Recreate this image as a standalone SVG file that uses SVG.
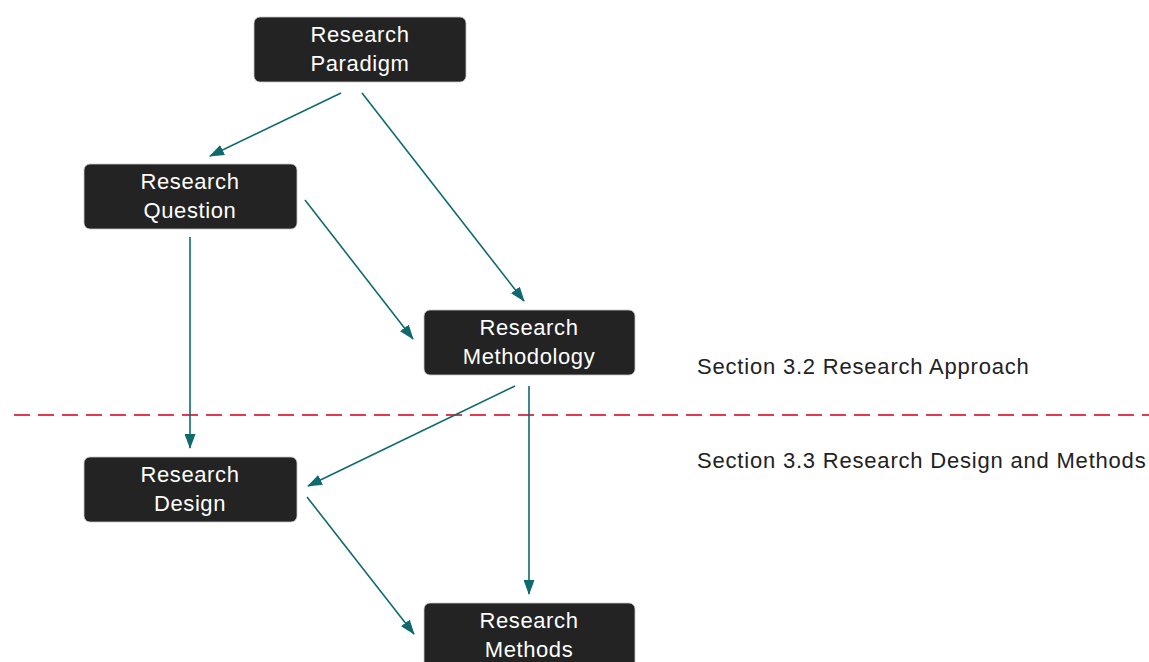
<svg xmlns="http://www.w3.org/2000/svg" width="1149" height="662" viewBox="0 0 1149 662">
  <style>
    .box { fill: #232323; stroke: #c8c8c8; stroke-width: 0.8; }
    .lbl { fill: #ffffff; font-family: "Liberation Sans", Arial, sans-serif; font-size: 22px; letter-spacing: 0.6px; text-anchor: middle; }
    .sec { fill: #222222; font-family: "Liberation Sans", Arial, sans-serif; font-size: 22px; letter-spacing: 0.8px; }
    .edge { stroke: #0f6a70; stroke-width: 1.6; fill: none; marker-end: url(#arrow); }
  </style>
  <defs>
    <marker id="arrow" markerWidth="15" markerHeight="11" refX="14" refY="5.5" orient="auto" markerUnits="userSpaceOnUse">
      <path d="M0,0 L15,5.5 L0,11 Z" fill="#0f6a70"/>
    </marker>
  </defs>

  <rect width="1149" height="662" fill="#ffffff"/>

  <!-- section divider -->
  <line x1="14" y1="415" x2="1149" y2="415" stroke="#e23a50" stroke-width="1.8" stroke-dasharray="16 8"/>

  <g id="connectors">
    <line class="edge" x1="341" y1="93" x2="210" y2="156"/>
    <line class="edge" x1="362" y1="93" x2="524" y2="301"/>
    <line class="edge" x1="305" y1="200" x2="413" y2="339"/>
    <line class="edge" x1="190" y1="237" x2="190" y2="448"/>
    <line class="edge" x1="515" y1="386" x2="308" y2="486"/>
    <line class="edge" x1="529" y1="386" x2="529" y2="594"/>
    <line class="edge" x1="307" y1="497" x2="414" y2="634"/>
  </g>

  <g id="research-paradigm">
    <rect class="box" x="254" y="17" width="212" height="65" rx="6"/>
    <text class="lbl" x="360" y="42">Research</text>
    <text class="lbl" x="360" y="71">Paradigm</text>
  </g>

  <g id="research-question">
    <rect class="box" x="84" y="164" width="213" height="65" rx="6"/>
    <text class="lbl" x="190" y="189">Research</text>
    <text class="lbl" x="190" y="218">Question</text>
  </g>

  <g id="research-methodology">
    <rect class="box" x="424" y="310" width="211" height="65" rx="6"/>
    <text class="lbl" x="529" y="335">Research</text>
    <text class="lbl" x="529" y="364">Methodology</text>
  </g>

  <g id="research-design">
    <rect class="box" x="84" y="457" width="213" height="65" rx="6"/>
    <text class="lbl" x="190" y="482">Research</text>
    <text class="lbl" x="190" y="511">Design</text>
  </g>

  <g id="research-methods">
    <rect class="box" x="424" y="603" width="211" height="65" rx="6"/>
    <text class="lbl" x="529" y="628">Research</text>
    <text class="lbl" x="529" y="657">Methods</text>
  </g>

  <g id="section-labels">
    <text class="sec" x="697" y="374">Section 3.2 Research Approach</text>
    <text class="sec" x="697" y="468">Section 3.3 Research Design and Methods</text>
  </g>
</svg>
